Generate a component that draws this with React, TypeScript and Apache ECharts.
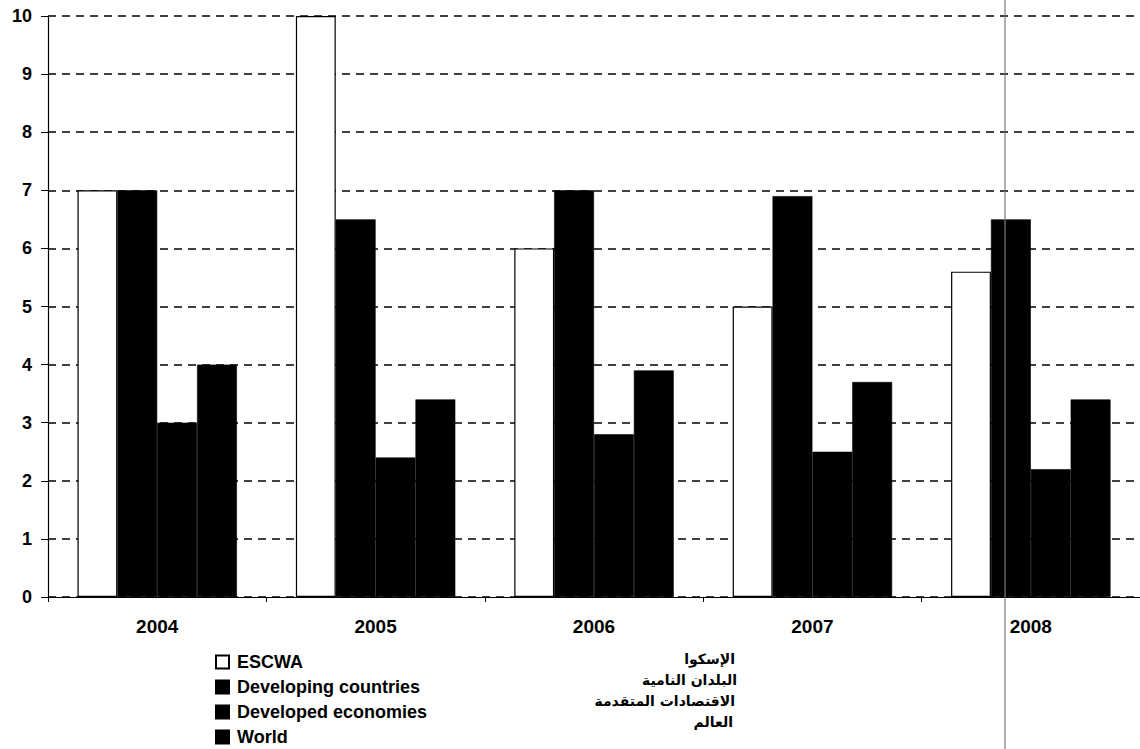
import React, { useEffect, useRef } from "react";
import * as echarts from "echarts";

const categories = ["2004", "2005", "2006", "2007", "2008"];
const seriesNames = ["ESCWA", "Developing countries", "Developed economies", "World"];
const arabicNames = ["الإسكوا", "البلدان النامية", "الاقتصادات المتقدمة", "العالم"];
const escwa = [7.0, 10.0, 6.0, 5.0, 5.6];
const developing = [7.0, 6.5, 7.0, 6.9, 6.5];
const developed = [3.0, 2.4, 2.8, 2.5, 2.2];
const world = [4.0, 3.4, 3.9, 3.7, 3.4];
const yTicks = [0, 10, 1];

const FONT = "'Liberation Sans', Arial, sans-serif";

export default function App() {
  const ref = useRef<HTMLDivElement>(null);
  useEffect(() => {
    if (!ref.current) return;
    const chart = echarts.init(ref.current, null, { renderer: "svg" });
    const values = [escwa, developing, developed, world];
    const legendTop = 653;
    const rowStep = 25;
    const arabicTop = 652;
    const arabicStep = 21;
    const arabicRight = [735, 737, 735, 733];
    chart.setOption({
      animation: false,
      backgroundColor: "#ffffff",
      grid: { left: 48, top: 16, width: 1100, height: 581, containLabel: false },
      xAxis: {
        type: "category",
        data: categories,
        boundaryGap: true,
        axisLine: { show: true, lineStyle: { color: "#000", width: 1.2 } },
        axisTick: { show: true, length: 5, interval: 0, lineStyle: { color: "#000" } },
        axisLabel: {
          margin: 20,
          color: "#000",
          fontFamily: FONT,
          fontWeight: "bold",
          fontSize: 19,
        },
      },
      yAxis: {
        type: "value",
        min: yTicks[0],
        max: yTicks[1],
        interval: yTicks[2],
        axisLine: { show: true, lineStyle: { color: "#000", width: 1.2 } },
        axisTick: { show: true, length: 7, lineStyle: { color: "#000" } },
        axisLabel: {
          margin: 16,
          color: "#000",
          fontFamily: FONT,
          fontWeight: "bold",
          fontSize: 18,
        },
        splitLine: {
          show: true,
          lineStyle: { color: "#000", width: 1.5, type: [8, 6] },
        },
      },
      legend: {
        show: true,
        orient: "vertical",
        left: 215,
        top: legendTop,
        height: 120,
        padding: 0,
        itemWidth: 13,
        itemHeight: 13,
        itemGap: rowStep - 18,
        icon: "rect",
        data: seriesNames,
        textStyle: {
          color: "#000",
          fontFamily: FONT,
          fontWeight: "bold",
          fontSize: 18,
          lineHeight: 18,
          padding: [0, 0, 0, 3],
        },
      },
      graphic: [
        {
          type: "line",
          shape: { x1: 1005, y1: 0, x2: 1005, y2: 749 },
          style: { stroke: "#7a7a7a", lineWidth: 1.2 },
          z: 100,
        },
        ...arabicNames.map((t, i) => ({
          type: "text",
          right: 1140 - arabicRight[i],
          top: arabicTop + i * arabicStep,
          style: {
            text: t,
            fill: "#000",
            font: "bold 14px 'DejaVu Sans', sans-serif",
            textAlign: "right",
          },
        })),
      ],
      series: seriesNames.map((name, i) => ({
        name,
        type: "bar",
        data: values[i],
        barGap: "0%",
        barCategoryGap: "27%",
        itemStyle:
          i === 0
            ? { color: "#ffffff", borderColor: "#000", borderWidth: 1.2 }
            : { color: "#000000", borderColor: "#000", borderWidth: 0.6 },
        emphasis: { disabled: true },
      })),
    });
    return () => chart.dispose();
  }, []);
  return (
    <div
      ref={ref}
      style={{ position: "absolute", left: 0, top: 0, width: 1140, height: 749, overflow: "hidden" }}
    />
  );
}
